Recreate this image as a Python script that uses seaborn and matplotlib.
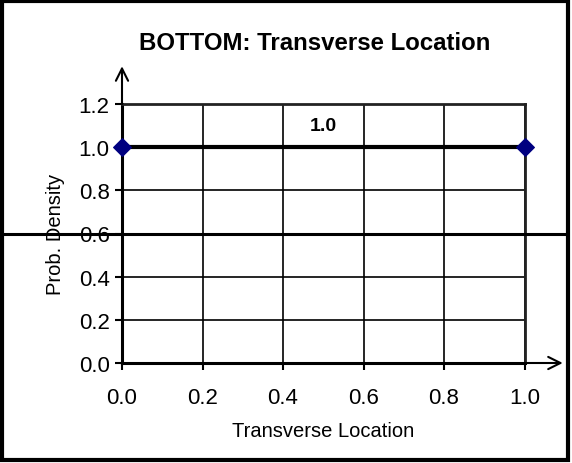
import numpy as np
import pandas as pd
import matplotlib
matplotlib.use("Agg")
import matplotlib.pyplot as plt
from matplotlib.patches import Rectangle
import seaborn as sns

# data
location = [0.0, 1.0]
density = [1.0, 1.0]
x_ticks = [0.0, 0.2, 0.4, 0.6, 0.8, 1.0]
y_ticks = [0.0, 0.2, 0.4, 0.6, 0.8, 1.0, 1.2]
value_label = "1.0"

df = pd.DataFrame({"Transverse Location": location, "Prob. Density": density})

sns.set_theme(style="white")
plt.rcParams["font.family"] = ["Liberation Sans", "DejaVu Sans"]

fig = plt.figure(figsize=(5.72, 4.64), dpi=100)
ax = fig.add_axes([122 / 572, 1 - 364 / 464, 402.5 / 572, 259 / 464])

sns.lineplot(data=df, x="Transverse Location", y="Prob. Density", ax=ax,
             color="black", lw=3, marker="D", markersize=9,
             markerfacecolor="#000080", markeredgecolor="#000080", zorder=3,
             clip_on=False)

ax.set_xlim(0, 1.0)
ax.set_ylim(0, 1.2)
ax.set_xticks(x_ticks)
ax.set_yticks(y_ticks)
ax.set_xticklabels([f"{v:.1f}" for v in x_ticks])
ax.set_yticklabels([f"{v:.1f}" for v in y_ticks])
ax.grid(True, color="black", lw=1.2)
ax.set_axisbelow(True)

for side in ["top", "right"]:
    ax.spines[side].set_color("#222222")
    ax.spines[side].set_linewidth(2)
for side in ["left", "bottom"]:
    ax.spines[side].set_color("black")
    ax.spines[side].set_linewidth(2.2)

ax.tick_params(axis="both", direction="out", length=5, width=1.5, color="black",
               labelsize=16, labelcolor="black", left=True, bottom=True)
ax.tick_params(axis="x", pad=12)
ax.tick_params(axis="y", pad=4)

ax.set_xlabel("Transverse Location", fontsize=14.5, color="black", labelpad=10)
ax.set_ylabel("Prob. Density", fontsize=14.5, color="black", labelpad=10)

# value label on the line
ax.text(0.5, 1.1, value_label, ha="center", va="center", fontsize=14,
        fontweight="bold", color="black")

# axis arrows
ax.annotate("", xy=(0, 1.375), xytext=(0, 1.2), xycoords="data",
            arrowprops=dict(arrowstyle="->", lw=1.5, color="black",
                            mutation_scale=22, shrinkA=0, shrinkB=0),
            annotation_clip=False)
ax.annotate("", xy=(1.095, 0), xytext=(1.0, 0), xycoords="data",
            arrowprops=dict(arrowstyle="->", lw=1.5, color="black",
                            mutation_scale=22, shrinkA=0, shrinkB=0),
            annotation_clip=False)

# stray horizontal rule across the whole figure
ax.axhline(0.6, xmin=-0.303, xmax=1.108, color="black", lw=2.2, clip_on=False,
           zorder=4)

fig.text(315 / 572, 1 - 44 / 464, "BOTTOM: Transverse Location", ha="center",
         va="center", fontsize=17.3, fontweight="bold", color="black")

# figure border
fig.patches.append(Rectangle((1.5 / 572, 1 - 461 / 464), 566.5 / 572, 459.5 / 464,
                             transform=fig.transFigure, fill=False,
                             edgecolor="black", lw=3))

fig.savefig("out.png", dpi=100)
